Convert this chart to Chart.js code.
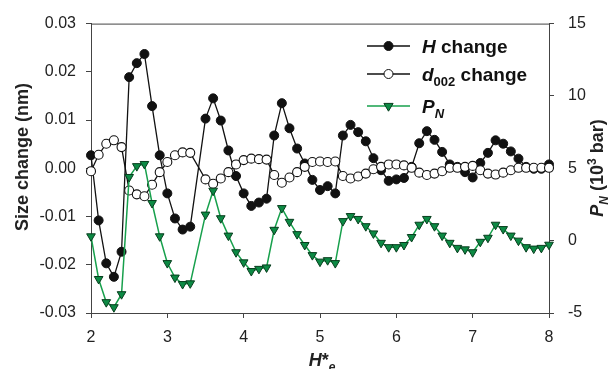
<!DOCTYPE html>
<html>
<head>
<meta charset="utf-8">
<script src="https://cdn.jsdelivr.net/npm/chart.js@4/dist/chart.umd.min.js"></script>
<style>
    html, body { margin: 0; padding: 0; background: #fff; }
</style>
</head>
<body>
<canvas id="grafico" width="609" height="369"></canvas>
<script>
// H*e values (no sample at 3.4)
const xs = [
    2.0, 2.1, 2.2, 2.3, 2.4, 2.5, 2.6, 2.7, 2.8, 2.9, 3.0, 3.1, 3.2, 3.3,
    3.5, 3.6, 3.7, 3.8, 3.9, 4.0, 4.1, 4.2, 4.3, 4.4, 4.5, 4.6, 4.7, 4.8, 4.9,
    5.0, 5.1, 5.2, 5.3, 5.4, 5.5, 5.6, 5.7, 5.8, 5.9,
    6.0, 6.1, 6.2, 6.3, 6.4, 6.5, 6.6, 6.7, 6.8, 6.9,
    7.0, 7.1, 7.2, 7.3, 7.4, 7.5, 7.6, 7.7, 7.8, 7.9, 8.0
]

// size change (nm)
const hChange = [
    0.0027, -0.0108, -0.0197, -0.0225, -0.0173, 0.0189, 0.0218, 0.0237, 0.0129, 0.0027, -0.0052, -0.0104, -0.0127, -0.0121,
    0.0103, 0.0145, 0.0099, 0.0037, -0.0016, -0.0052, -0.0078, -0.0071, -0.0063, 0.0068, 0.0135, 0.0083, 0.0041, 0.0010, -0.0024,
    -0.0045, -0.0037, -0.0052, 0.0068, 0.0090, 0.0075, 0.0056, 0.0021, -0.0004, -0.0026,
    -0.0023, -0.0020, 0.0003, 0.0052, 0.0077, 0.0059, 0.0034, 0.0008, 0.0003, -0.0008,
    -0.0019, 0.0011, 0.0032, 0.0058, 0.0051, 0.0035, 0.0020, 0.0003, -0.0001, -0.0001, 0.0008
]

const d002Change = [
    -0.0006, 0.0028, 0.0051, 0.0058, 0.0044, -0.0046, -0.0054, -0.0058, -0.0034, -0.0008, 0.0013, 0.0027, 0.0033, 0.0032,
    -0.0023, -0.0032, -0.0021, -0.0008, 0.0008, 0.0017, 0.0020, 0.0019, 0.0018, -0.0014, -0.0030, -0.0019, -0.0008, 0.0003, 0.0013,
    0.0014, 0.0013, 0.0014, -0.0016, -0.0021, -0.0017, -0.0011, -0.0002, 0.0003, 0.0008,
    0.0008, 0.0006, 0.0001, -0.0009, -0.0014, -0.0011, -0.0006, 0.0001, 0.0001, 0.0003,
    0.0005, -0.0004, -0.0011, -0.0013, -0.0009, -0.0004, 0.0001, 0.0001, 0.0001, 0.0001, 0.0001
]

// P_N (10^3 bar)
const pN = [
    0.3, -2.65, -4.25, -4.6, -3.7, 4.4, 5.15, 5.3, 2.6, 0.3, -1.55, -2.55, -3.0, -2.95,
    1.8, 3.45, 1.55, 0.35, -0.8, -1.5, -2.1, -1.95, -1.85, 0.75, 2.25, 1.3, 0.45, -0.3, -1.0,
    -1.45, -1.35, -1.55, 1.35, 1.7, 1.5, 1.0, 0.5, -0.15, -0.45,
    -0.45, -0.3, 0.25, 1.1, 1.5, 1.0, 0.35, -0.15, -0.5, -0.6,
    -0.8, -0.08, 0.2, 1.1, 0.8, 0.35, 0.0, -0.45, -0.55, -0.5, -0.28
]

const FONT = '"Liberation Sans", Arial, sans-serif'
const AXIS = '#444'
const GREEN_LINE = '#17a04c'
const GREEN_FILL = '#0c8a44'
const GREEN_EDGE = '#073d1d'

function toPoints(values) {
    return xs.map((x, i) => ({ x: x, y: values[i] }))
}

// draws a row of text pieces (for subscripts / italics)
function drawRich(ctx, parts, x, y, align) {
    let total = 0
    parts.forEach(p => {
        ctx.font = p.font
        p.w = ctx.measureText(p.text).width
        total += p.w
    })
    let cx = align === 'center' ? x - total / 2 : x
    ctx.textAlign = 'left'
    ctx.textBaseline = 'alphabetic'
    parts.forEach(p => {
        ctx.font = p.font
        ctx.fillText(p.text, cx, y + (p.dy || 0))
        cx += p.w
    })
}

const b18 = 'bold 18px ' + FONT
const bi18 = 'bold italic 18px ' + FONT
const b12 = 'bold 12px ' + FONT
const bi12 = 'bold italic 12px ' + FONT
const b19 = 'bold 19px ' + FONT
const bi19 = 'bold italic 19px ' + FONT
const b13 = 'bold 13px ' + FONT
const bi13 = 'bold italic 13px ' + FONT

const extras = {
    id: 'extras',
    afterDraw(chart) {
        const ctx = chart.ctx
        const area = chart.chartArea
        ctx.save()

        // top frame line
        ctx.strokeStyle = AXIS
        ctx.lineWidth = 1
        ctx.beginPath()
        ctx.moveTo(area.left, area.top + 0.5)
        ctx.lineTo(area.right, area.top + 0.5)
        ctx.stroke()

        ctx.fillStyle = '#222'

        // left title
        ctx.save()
        ctx.translate(28, 157)
        ctx.rotate(-Math.PI / 2)
        drawRich(ctx, [{ text: 'Size change (nm)', font: b18 }], 0, 0, 'center')
        ctx.restore()

        // right title
        ctx.save()
        ctx.translate(603, 168)
        ctx.rotate(-Math.PI / 2)
        drawRich(ctx, [
            { text: 'P', font: bi18 },
            { text: 'N', font: bi12, dy: 5 },
            { text: ' (10', font: b18 },
            { text: '3', font: b12, dy: -7 },
            { text: ' bar)', font: b18 }
        ], 0, 0, 'center')
        ctx.restore()

        // x title
        drawRich(ctx, [
            { text: 'H', font: bi18 },
            { text: '*', font: b18 },
            { text: 'e', font: bi12, dy: 5 }
        ], 322, 366, 'center')

        // legend
        const rows = [
            { y: 46, line: '#111', fill: '#111', edge: '#111', shape: 'circle',
              parts: [{ text: 'H', font: bi19 }, { text: ' change', font: b19 }] },
            { y: 74, line: '#111', fill: '#fff', edge: '#111', shape: 'circle',
              parts: [{ text: 'd', font: bi19 }, { text: '002', font: b13, dy: 5 }, { text: ' change', font: b19 }] },
            { y: 106, line: GREEN_LINE, fill: GREEN_FILL, edge: GREEN_EDGE, shape: 'triangle',
              parts: [{ text: 'P', font: bi19 }, { text: 'N', font: bi13, dy: 5 }] }
        ]
        rows.forEach(r => {
            ctx.strokeStyle = r.line
            ctx.lineWidth = 1.4
            ctx.beginPath()
            ctx.moveTo(367, r.y)
            ctx.lineTo(410, r.y)
            ctx.stroke()
            ctx.fillStyle = r.fill
            ctx.strokeStyle = r.edge
            ctx.lineWidth = 1
            ctx.beginPath()
            if (r.shape === 'circle') {
                ctx.arc(388.5, r.y, 4.5, 0, Math.PI * 2)
            } else {
                ctx.moveTo(388.5 - 4.6, r.y - 2.6)
                ctx.lineTo(388.5 + 4.6, r.y - 2.6)
                ctx.lineTo(388.5, r.y + 5.2)
                ctx.closePath()
            }
            ctx.fill()
            ctx.stroke()
            ctx.fillStyle = '#111'
            drawRich(ctx, r.parts, 422, r.y + 7, 'left')
        })

        ctx.restore()
    }
}

function createChart() {
    const ctx = document.getElementById('grafico').getContext('2d')
    new Chart(ctx, {
        type: 'line',
        data: {
            datasets: [{
                label: 'P_N',
                data: toPoints(pN),
                yAxisID: 'y2',
                borderColor: GREEN_LINE,
                borderWidth: 1.5,
                pointStyle: 'triangle',
                pointRotation: 180,
                pointRadius: 5,
                pointBackgroundColor: GREEN_FILL,
                pointBorderColor: GREEN_EDGE,
                pointBorderWidth: 1,
                tension: 0,
                clip: false,
                order: 0
            }, {
                label: 'd002 change',
                data: toPoints(d002Change),
                yAxisID: 'y',
                borderColor: '#111',
                borderWidth: 1.3,
                pointStyle: 'circle',
                pointRadius: 4.5,
                pointBackgroundColor: '#fff',
                pointBorderColor: '#111',
                pointBorderWidth: 1.1,
                tension: 0,
                clip: false,
                order: 1
            }, {
                label: 'H change',
                data: toPoints(hChange),
                yAxisID: 'y',
                borderColor: '#111',
                borderWidth: 1.3,
                pointStyle: 'circle',
                pointRadius: 4.5,
                pointBackgroundColor: '#111',
                pointBorderColor: '#111',
                pointBorderWidth: 1,
                tension: 0,
                clip: false,
                order: 2
            }]
        },
        options: {
            responsive: false,
            animation: false,
            layout: {
                padding: { top: 23, left: 0, right: 0, bottom: 0 }
            },
            plugins: {
                legend: { display: false },
                title: { display: false },
                tooltip: { enabled: false }
            },
            scales: {
                x: {
                    type: 'linear',
                    position: 'bottom',
                    min: 2,
                    max: 8,
                    afterFit: s => { s.height = 56 },
                    ticks: {
                        stepSize: 1,
                        color: '#222',
                        padding: 10,
                        maxRotation: 0,
                        font: { family: FONT, size: 16 }
                    },
                    grid: {
                        drawOnChartArea: false,
                        tickLength: 5,
                        color: AXIS
                    },
                    border: { color: AXIS, width: 1 }
                },
                y: {
                    position: 'left',
                    min: -0.03,
                    max: 0.03,
                    afterFit: s => { s.width = 91 },
                    ticks: {
                        stepSize: 0.01,
                        color: '#222',
                        padding: 10,
                        font: { family: FONT, size: 16 },
                        callback: v => (Math.round(v * 100) / 100).toFixed(2)
                    },
                    grid: {
                        drawOnChartArea: false,
                        tickLength: 5,
                        color: AXIS
                    },
                    border: { color: AXIS, width: 1 }
                },
                y2: {
                    position: 'right',
                    min: -5,
                    max: 15,
                    afterFit: s => { s.width = 60 },
                    ticks: {
                        stepSize: 5,
                        color: '#222',
                        padding: 14,
                        font: { family: FONT, size: 16 }
                    },
                    grid: {
                        drawOnChartArea: false,
                        tickLength: 5,
                        color: AXIS
                    },
                    border: { color: AXIS, width: 1 }
                }
            }
        },
        plugins: [extras]
    })
}

createChart()
</script>
</body>
</html>
